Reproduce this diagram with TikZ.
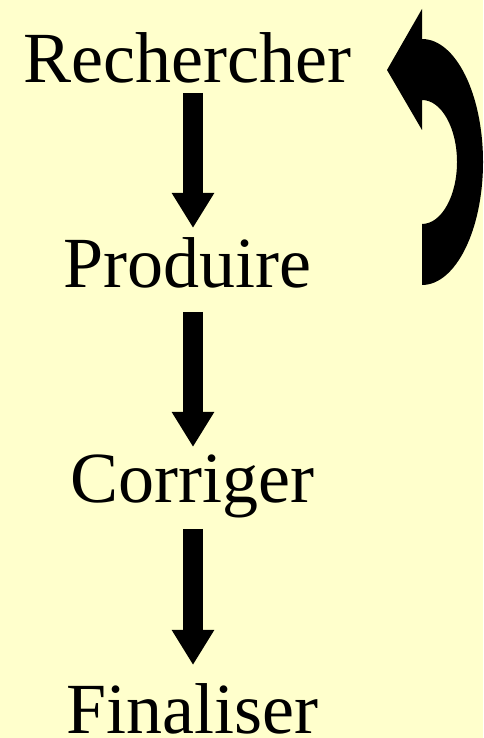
\documentclass[tikz,border=0pt]{standalone}
\usepackage{fontspec}
\setmainfont{Liberation Serif}
\usetikzlibrary{arrows.meta}
\definecolor{bg}{RGB}{255,255,204}
\begin{document}
\begin{tikzpicture}[x=1pt,y=1pt,
  word/.style={inner sep=0pt, anchor=base, font=\fontsize{72}{80}\selectfont},
  blockarrow/.style={line width=20pt, -{Triangle[width=40pt,length=35pt]}}]
\fill[bg] (0,0) rectangle (483,738);
\useasboundingbox (0,0) rectangle (483,738);
\node[word] (r) at (187.5,655) {Rechercher};
\node[word] (p) at (187.5,450) {Produire};
\node[word] (c) at (192,235) {Corriger};
\node[word] (f) at (192,5) {Finaliser};
\coordinate (a1s) at (193,645); \coordinate (a1e) at (193,510);
\coordinate (a2s) at (193,426); \coordinate (a2e) at (193,291);
\coordinate (a3s) at (193,209); \coordinate (a3e) at (193,73);
\draw[blockarrow] (a1s) -- (a1e);
\draw[blockarrow] (a2s) -- (a2e);
\draw[blockarrow] (a3s) -- (a3e);
\coordinate (loopstart) at (422,453);
\coordinate (looptip) at (387,668);
\fill (loopstart) arc[start angle=-90,end angle=90,x radius=61,y radius=123]
  -- (422,729) -- (looptip) -- (422,608) -- (422,638)
  arc[start angle=90,end angle=-90,x radius=35,y radius=62] -- cycle;
\end{tikzpicture}
\end{document}
